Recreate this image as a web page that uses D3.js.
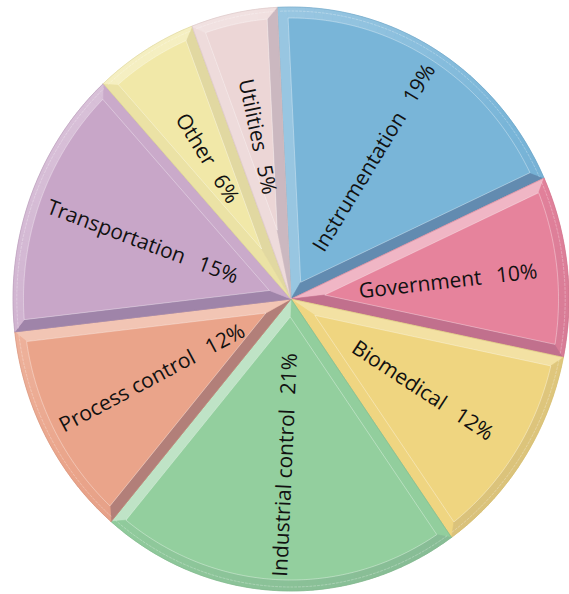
<!DOCTYPE html>
<html>
<head>
<meta charset="utf-8">
<script src="https://cdn.jsdelivr.net/npm/d3@7"></script>
<style>
  html, body { margin:0; padding:0; background:#fff; }
  svg { display:block; }
  .plabel { font-family:"Open Sans", "Noto Sans", sans-serif; font-size:21px; fill:#111; }
</style>
</head>
<body>
<svg id="chart" width="569" height="594"></svg>
<script>
/* Sectores, en orden horario desde las 12 */
const categories = ["Instrumentation", "Government", "Biomedical", "Industrial control",
                    "Process control", "Transportation", "Other", "Utilities"];
const shares = [19, 10, 12, 21, 12, 15, 6, 5];
const colors = ["#79b5d8", "#e6839c", "#efd580", "#93cf9e",
                "#eaa48a", "#c8a6c8", "#f1e8a8", "#ecd6d6"];

const width = 569, height = 594;
const cx = 291, cy = 299;
const R = 292;            // radio vertical
const kx = 278 / 292;     // el pastel es un poco más estrecho que alto
const bev = 11;           // ancho del bisel
const labelR = 166;

const svg = d3.select("#chart");
const light = [-0.6, -0.8]; // luz desde arriba a la izquierda

const pie = d3.pie().sort(null).value(d => d).startAngle(-0.05).endAngle(-0.05 + 2 * Math.PI);
const arcs = pie(shares);

/* ángulo medido en sentido horario desde el norte */
const u = a => [Math.sin(a), -Math.cos(a)];   // radial
const t = a => [Math.cos(a), Math.sin(a)];    // tangente (horario)
const add = (p, q, s) => [p[0] + q[0] * s, p[1] + q[1] * s];
const mul = (p, s) => [p[0] * s, p[1] * s];

function arcPts(r, a0, a1){
  const n = Math.max(2, Math.ceil(Math.abs(a1 - a0) / (Math.PI / 360)));
  return d3.range(n + 1).map(i => mul(u(a0 + (a1 - a0) * i / n), r));
}

function shade(base, s){
  if(s >= 0) return d3.interpolateRgb(base, "#ffffff")(0.42 * s);
  return d3.interpolateRgb(base, "#2a2450")(0.3 * -s);
}
const dot = (n) => n[0] * light[0] + n[1] * light[1];

const line = d3.line();
const g = svg.append("g")
  .attr("transform", `translate(${cx},${cy}) scale(${kx},1)`);

arcs.forEach((d, i) => {
  const a0 = d.startAngle, a1 = d.endAngle, base = colors[i];
  const h = (a1 - a0) / 2;
  const ri = R - bev;
  const s = Math.sqrt(ri * ri - bev * bev);
  const apex = mul(u(a0 + h), bev / Math.sin(h));
  const c0 = add(mul(u(a0), s), t(a0), bev);
  const c1 = add(mul(u(a1), s), t(a1), -bev);
  const da = Math.asin(bev / ri);
  const o0 = mul(u(a0), R), o1 = mul(u(a1), R);

  const sg = g.append("g").attr("class", "slice");

  // fondo completo
  sg.append("path")
    .attr("d", line([[0, 0], ...arcPts(R, a0, a1)]) + "Z")
    .attr("fill", base);

  // bisel lateral de inicio
  const cs = shade(base, dot(mul(t(a0), -1)));
  sg.append("path")
    .attr("d", line([[0, 0], o0, c0, apex]) + "Z")
    .attr("fill", cs).attr("stroke", cs).attr("stroke-width", 0.6);

  // bisel lateral de fin
  const ce = shade(base, dot(t(a1)));
  sg.append("path")
    .attr("d", line([[0, 0], o1, c1, apex]) + "Z")
    .attr("fill", ce).attr("stroke", ce).attr("stroke-width", 0.6);

  // bisel exterior, por tramos
  const n = Math.ceil((a1 - a0) / (Math.PI / 90));
  for(let k = 0; k < n; k++){
    const b0 = a0 + (a1 - a0) * k / n, b1 = a0 + (a1 - a0) * (k + 1) / n;
    const q0 = Math.min(Math.max(b0, a0 + da), a1 - da);
    const q1 = Math.min(Math.max(b1, a0 + da), a1 - da);
    const inner = (q1 > q0) ? arcPts(ri, q1, q0) : [];
    const pts = [...arcPts(R, b0, b1)];
    if(k === n - 1) pts.push(c1);
    pts.push(...inner);
    if(k === 0) pts.push(c0);
    const sv = dot(u((b0 + b1) / 2));
    const cc = shade(base, sv > 0 ? 0.7 * sv : 0.35 * sv);
    sg.append("path")
      .attr("d", line(pts) + "Z")
      .attr("fill", cc).attr("stroke", cc).attr("stroke-width", 0.6);
  }

  // cara superior
  sg.append("path")
    .attr("d", line([apex, c0, ...arcPts(ri, a0 + da, a1 - da), c1]) + "Z")
    .attr("fill", base)
    .attr("stroke", "#ffffff").attr("stroke-opacity", 0.45).attr("stroke-width", 0.8);

  // línea fina clara cerca del borde
  sg.append("path")
    .attr("d", line(arcPts(R - 4, a0 + 0.01, a1 - 0.01)))
    .attr("fill", "none")
    .attr("stroke", "#ffffff").attr("stroke-opacity", 0.35).attr("stroke-width", 0.8)
    .attr("stroke-dasharray", "3,1");

  // contorno suave
  sg.append("path")
    .attr("d", line([[0, 0], ...arcPts(R, a0, a1)]) + "Z")
    .attr("fill", "none")
    .attr("stroke", d3.color(base).darker(0.4)).attr("stroke-opacity", 0.5).attr("stroke-width", 0.8);
});

/* etiquetas radiales */
svg.selectAll("text.plabel")
  .data(arcs)
  .enter()
  .append("text")
  .attr("class", "plabel")
  .attr("text-anchor", "middle")
  .attr("dominant-baseline", "central")
  .attr("transform", d => {
    const m = (d.startAngle + d.endAngle) / 2;
    const x = cx + kx * labelR * Math.sin(m);
    const y = cy - labelR * Math.cos(m);
    const deg = m * 180 / Math.PI;
    const rot = m < Math.PI ? deg - 90 : deg - 270;
    return `translate(${x},${y}) rotate(${rot})`;
  })
  .each(function(d, i){
    const el = d3.select(this);
    el.append("tspan").text(categories[i]);
    el.append("tspan").attr("dx", "0.7em").text(shares[i] + "%");
  });
</script>
</body>
</html>
